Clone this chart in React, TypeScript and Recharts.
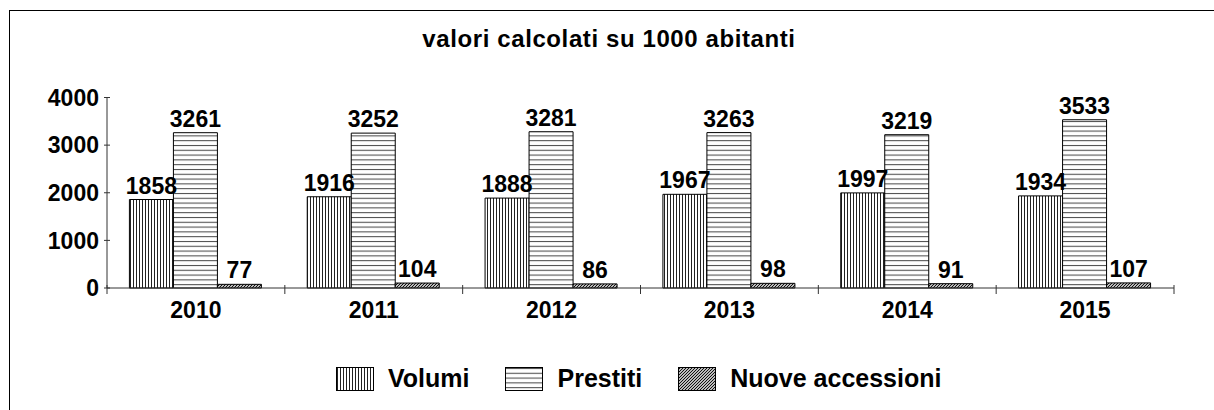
import React from 'react';
import { BarChart, Bar, XAxis, YAxis, LabelList, Legend } from 'recharts';

const years = ['2010', '2011', '2012', '2013', '2014', '2015'];
const volumi = [1858, 1916, 1888, 1967, 1997, 1934];
const prestiti = [3261, 3252, 3281, 3263, 3219, 3533];
const nuoveAccessioni = [77, 104, 86, 98, 91, 107];
const yTicks = [0, 1000, 2000, 3000, 4000];

const seriesNames = ['Volumi', 'Prestiti', 'Nuove accessioni'];
const seriesKeys = ['volumi', 'prestiti', 'nuove'];

const data = years.map((year, i) => ({
  year,
  volumi: volumi[i],
  prestiti: prestiti[i],
  nuove: nuoveAccessioni[i],
}));

const FONT = '"Liberation Sans", Arial, sans-serif';

const W = 1214;
const H = 410;
const margin = { top: 97.5, right: 40, bottom: 92, left: 47 };
const yAxisWidth = 60;
// width of one category band, used for the small separator ticks on the x axis
const band = (W - margin.left - margin.right - yAxisWidth) / years.length;

const patternDefs = (prefix: string) => (
  <defs>
    <pattern id={`${prefix}-v`} width="3" height="10" patternUnits="userSpaceOnUse">
      <rect width="3" height="10" fill="#fff" />
      <rect x="1" width="1" height="10" fill="#222" />
    </pattern>
    <pattern id={`${prefix}-h`} width="10" height="4.8" patternUnits="userSpaceOnUse">
      <rect width="10" height="4.8" fill="#fff" />
      <rect y="1" width="10" height="1" fill="#444" />
    </pattern>
    <pattern id={`${prefix}-d`} width="3" height="3" patternUnits="userSpaceOnUse">
      <rect width="3" height="3" fill="#bbb" />
      <path d="M0,3 L3,0 M-1,1 L1,-1 M2,4 L4,2" stroke="#111" strokeWidth="1" />
    </pattern>
  </defs>
);

const fillIds = ['v', 'h', 'd'];

const YTick = (props: any) => {
  const { x, y, payload } = props;
  return (
    <g>
      <line x1={x - 3} x2={x + 3} y1={y} y2={y} stroke="#333" />
      <text x={x - 8} y={y} dy="0.36em" textAnchor="end" fontSize={23} fontWeight="bold" fontFamily={FONT} fill="#000">
        {payload.value}
      </text>
    </g>
  );
};

const XTick = (props: any) => {
  const { x, y, payload, index } = props;
  const left = x - band / 2;
  const right = x + band / 2;
  return (
    <g>
      <line x1={left} x2={left} y1={y - 3} y2={y + 6} stroke="#333" />
      {index === years.length - 1 && <line x1={right} x2={right} y1={y - 3} y2={y + 6} stroke="#333" />}
      <text x={x} y={y + 30} textAnchor="middle" fontSize={23} fontWeight="bold" fontFamily={FONT} fill="#000">
        {payload.value}
      </text>
    </g>
  );
};

const renderLegend = () => (
  <div style={{ display: 'flex', alignItems: 'center', fontFamily: FONT, fontWeight: 'bold', fontSize: 25, color: '#000' }}>
    <svg width="0" height="0" style={{ position: 'absolute' }}>
      {patternDefs('lg')}
    </svg>
    {seriesNames.map((name, i) => (
      <div key={name} style={{ display: 'flex', alignItems: 'center', marginRight: 36 }}>
        <svg width="38" height="24" style={{ marginRight: 14 }}>
          <rect x="0.5" y="0.5" width="37" height="23" fill={`url(#lg-${fillIds[i]})`} stroke="#000" />
        </svg>
        <span>{name}</span>
      </div>
    ))}
  </div>
);

export default function App() {
  return (
    <div style={{ position: 'absolute', left: 0, top: 0, width: W, height: H, overflow: 'hidden', background: '#fff' }}>
      <div style={{ position: 'absolute', left: 9, top: 10, width: 1300, height: 500, border: '1px solid #000' }} />
      <div
        style={{
          position: 'absolute',
          left: 0,
          width: 1218,
          top: 27,
          textAlign: 'center',
          fontFamily: FONT,
          fontWeight: 'bold',
          fontSize: 24,
          lineHeight: '24px',
          letterSpacing: 0.6,
          color: '#000',
        }}
      >
        valori calcolati su 1000 abitanti
      </div>
      <div style={{ position: 'absolute', left: 0, top: 0 }}>
        <BarChart
          width={W}
          height={H}
          data={data}
          margin={margin}
          barCategoryGap="12.6%"
          barGap={0}
        >
          {patternDefs('ch')}
          <XAxis
            dataKey="year"
            height={30}
            axisLine={{ stroke: '#333' }}
            tickLine={false}
            tickSize={0}
            tickMargin={0}
            tick={<XTick />}
            interval={0}
          />
          <YAxis
            width={yAxisWidth}
            domain={[0, 4000]}
            ticks={yTicks}
            axisLine={{ stroke: '#333' }}
            tickLine={false}
            tickSize={0}
            tickMargin={0}
            tick={<YTick />}
            interval={0}
          />
          {seriesKeys.map((key, i) => (
            <Bar
              key={key}
              dataKey={key}
              name={seriesNames[i]}
              fill={`url(#ch-${fillIds[i]})`}
              stroke="#000"
              strokeWidth={1}
              isAnimationActive={false}
            >
              <LabelList
                dataKey={key}
                position="top"
                offset={6}
                fill="#000"
                fontSize={23}
                fontWeight="bold"
                fontFamily={FONT}
              />
            </Bar>
          ))}
          <Legend
            verticalAlign="middle"
            content={renderLegend}
            wrapperStyle={{ left: 336, top: 364, width: 'auto' }}
          />
        </BarChart>
      </div>
    </div>
  );
}
